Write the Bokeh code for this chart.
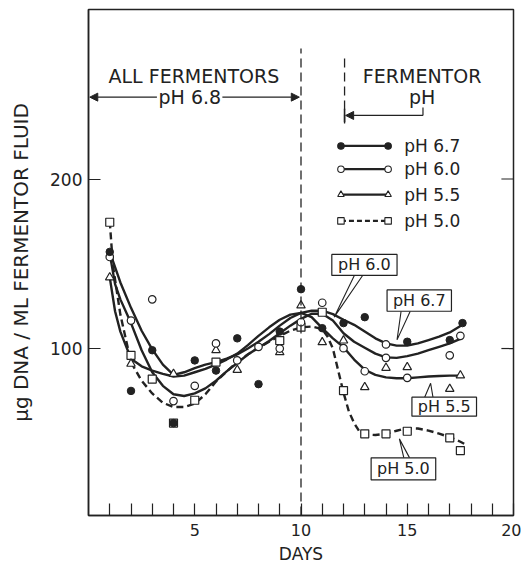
from bokeh.plotting import figure
from bokeh.models import (Range1d, FixedTicker, Label, BoxAnnotation, Arrow, NormalHead)
from bokeh.embed import file_html
from bokeh.resources import INLINE

# ---------------- data ----------------
# measured points
days_67 = [1, 2, 3, 4, 5, 6, 7, 8, 9, 10, 11, 12, 13, 15, 17, 17.6]
vals_67 = [157, 75, 99, 56, 93, 87, 106, 79, 110, 135, 112, 115, 118.5, 104, 105, 115]

days_60 = [1, 2, 3, 4, 5, 6, 7, 8, 9, 10, 11, 12, 13, 14, 14, 15, 17, 17.5]
vals_60 = [154, 116.5, 129, 69, 78, 103, 93, 101, 100, 115.5, 127, 100.2, 86.6, 102.4, 94.5, 82.7, 96, 107.5]

days_55 = [1, 2, 4, 6, 7, 9, 10, 11, 12, 13, 14, 15, 17, 17.5]
vals_55 = [142, 91, 85, 99, 87.4, 97.8, 125.4, 103.7, 104.7, 77.2, 88.6, 89, 76.2, 84.1]

days_50 = [1, 2, 3, 4, 5, 6, 9, 10, 11, 12, 13, 14, 15, 17, 17.5]
vals_50 = [174.5, 96, 82, 56, 69.5, 92, 104.7, 112.6, 121.4, 75.2, 49.7, 49.7, 51.2, 47.3, 39.8]

# hand-drawn curves
curve_days_67 = [1, 1.5, 2, 2.5, 3, 3.5, 4, 4.5, 5, 5.5, 6, 6.5, 7, 7.5, 8, 8.5, 9, 9.5, 10, 10.5,
                 11, 11.5, 12, 12.5, 13, 13.5, 14, 14.5, 15, 15.5, 16, 16.5, 17, 17.6]
curve_67 = [157, 139, 124, 110.5, 99.5, 90.5, 84.5, 86, 88.5, 90.5, 92, 94, 96.5, 100, 104, 108.5,
            113.5, 118, 121, 122.3, 122.3, 120.3, 117, 114, 110, 106, 103, 101.7, 101.8, 103, 105,
            107, 109.5, 114]

curve_days_60 = [1, 1.25, 1.5, 2, 2.5, 3, 3.5, 4, 4.5, 5, 5.5, 6, 6.5, 7, 7.5, 8, 8.5, 9, 9.5, 10,
                 10.5, 11, 11.5, 12, 12.5, 13, 13.5, 14, 14.5, 15, 15.5, 16, 16.5, 17, 17.5]
curve_60 = [156, 138, 129, 115, 99, 86, 78, 73, 72, 73.5, 76.5, 81, 86.5, 91.5, 96.5, 100.5, 104.5,
            109, 113.5, 117.5, 120.5, 120.5, 116.5, 109, 104, 100.5, 97, 94.8, 94.5, 95.5, 97, 99,
            101, 103, 105.7]

curve_days_55 = [1, 1.25, 1.5, 2, 2.5, 3, 3.5, 4, 4.5, 5, 5.5, 6, 6.5, 7, 7.5, 8, 8.5, 9, 9.5, 10,
                 10.5, 11, 11.5, 12, 12.5, 13, 13.5, 14, 14.5, 15, 15.5, 16, 16.5, 17, 17.4]
curve_55 = [142, 122, 110, 94, 89.5, 87, 85, 83.5, 84, 86, 88, 90.5, 93.5, 97, 102, 107.5, 112.5,
            117, 120, 121, 118.5, 112, 106, 100.8, 93.5, 87.5, 84.5, 83, 82.5, 82.5, 83, 83.5,
            83.8, 84, 84]

curve_days_50 = [1, 1.15, 1.5, 2, 2.5, 3, 3.5, 4, 4.5, 5, 5.5, 6, 6.5, 7, 7.5, 8, 8.5, 9, 9.5,
                 10, 10.5, 11, 11.25, 11.5, 11.75, 12, 12.25, 12.5, 12.75, 13, 13.5, 14, 14.5, 15,
                 15.5, 16, 16.5, 17, 17.5, 17.8]
curve_50 = [175, 149, 120, 92, 81, 73.5, 68, 65.5, 65.5, 67.5, 73, 80.5, 86.5, 92, 96.5, 100.5,
            104, 107.5, 110.5, 112.5, 113, 111.5, 107, 100, 87, 74, 63, 56, 51, 49.3, 49, 49.7,
            51.5, 53, 52.8, 51.6, 49.8, 47.7, 45, 43]

x_ticks = list(range(1, 21))
x_tick_labels = {5: "5", 10: "10", 15: "15", 20: "20"}
y_ticks = [100, 200]

INK = "#222222"
FONT = "DejaVu Sans"

p = figure(width=521, height=567, output_backend="svg", toolbar_location=None,
           x_range=Range1d(0, 20), y_range=Range1d(1.5, 300),
           min_border_left=88, min_border_right=8, min_border_top=9, min_border_bottom=52,
           background_fill_color="white", border_fill_color="white")
p.grid.visible = False
p.outline_line_color = INK
p.outline_line_width = 1.5

# x axis
xa = p.xaxis[0]
xa.ticker = FixedTicker(ticks=x_ticks)
xa.major_label_overrides = {t: x_tick_labels.get(t, "") for t in x_ticks}
xa.major_tick_in = 12
xa.major_tick_out = 0
xa.minor_tick_line_color = None
xa.major_tick_line_color = INK
xa.major_tick_line_width = 1.2
xa.axis_line_color = INK
xa.axis_line_width = 1.5
xa.major_label_text_font = FONT
xa.major_label_text_font_size = "16px"
xa.major_label_text_color = INK
xa.major_label_standoff = 8
xa.axis_label = "DAYS"
xa.axis_label_text_font = FONT
xa.axis_label_text_font_size = "17px"
xa.axis_label_text_font_style = "normal"
xa.axis_label_text_color = INK
xa.axis_label_standoff = 5

# y axis (left)
ya = p.yaxis[0]
ya.ticker = FixedTicker(ticks=y_ticks)
ya.major_tick_in = 12
ya.major_tick_out = 0
ya.minor_tick_line_color = None
ya.major_tick_line_color = INK
ya.major_tick_line_width = 1.2
ya.axis_line_color = INK
ya.axis_line_width = 1.5
ya.major_label_text_font = FONT
ya.major_label_text_font_size = "17px"
ya.major_label_text_color = INK
ya.major_label_standoff = 6
ya.major_label_orientation = "horizontal"
ya.axis_label = "\u03bcg DNA / ML FERMENTOR FLUID"
ya.axis_label_text_font = FONT
ya.axis_label_text_font_size = "20px"
ya.axis_label_text_font_style = "normal"
ya.axis_label_text_color = INK
ya.axis_label_standoff = 14

# right-hand inward ticks
p.segment(x0=[19.43, 19.43], y0=y_ticks, x1=[20, 20], y1=y_ticks, line_color=INK, line_width=1.2)

# ---------------- curves ----------------
LW = 2.4
p.line(curve_days_67, curve_67, line_color=INK, line_width=LW)
p.line(curve_days_60, curve_60, line_color=INK, line_width=LW)
p.line(curve_days_55, curve_55, line_color=INK, line_width=LW)
p.line(curve_days_50, curve_50, line_color=INK, line_width=LW, line_dash="7 4")

# ---------------- points ----------------
p.scatter(days_50, vals_50, marker="square", size=8, fill_color="white", line_color=INK, line_width=1.2)
p.scatter(days_55, vals_55, marker="triangle", size=8.5, fill_color="white", line_color=INK, line_width=1.2)
p.scatter(days_60, vals_60, marker="circle", size=7.5, fill_color="white", line_color=INK, line_width=1.2)
p.scatter(days_67, vals_67, marker="circle", size=7.5, fill_color=INK, line_color=INK)

# ---------------- annotations ----------------
# vertical dashed separators
p.line([10, 10], [1.5, 277], line_color=INK, line_width=1.3, line_dash="9 5")
p.line([12.05, 12.05], [232.7, 274], line_color=INK, line_width=1.3, line_dash="9 5")

# header texts
for txt, x, y in [("ALL FERMENTORS", 4.96, 260.5), ("pH 6.8", 4.77, 248.3),
                  ("FERMENTOR", 15.7, 260.5), ("pH", 15.7, 248.6)]:
    p.add_layout(Label(x=x, y=y, text=txt, text_align="center", text_baseline="middle",
                       text_font=FONT, text_font_size="19px", text_color=INK))

# pH 6.8 double arrow
p.add_layout(Arrow(x_start=3.22, y_start=248.3, x_end=0.06, y_end=248.3,
                   end=NormalHead(size=8, fill_color=INK, line_color=INK),
                   line_color=INK, line_width=1.2))
p.add_layout(Arrow(x_start=6.3, y_start=248.3, x_end=9.92, y_end=248.3,
                   end=NormalHead(size=8, fill_color=INK, line_color=INK),
                   line_color=INK, line_width=1.2))

# fermentor pH arrow
p.line([15.74, 15.74], [242.2, 237.5], line_color=INK, line_width=1.2)
p.add_layout(Arrow(x_start=15.74, y_start=237.5, x_end=12.1, y_end=237.5,
                   end=NormalHead(size=8, fill_color=INK, line_color=INK),
                   line_color=INK, line_width=1.2))
p.line([12.05, 12.05], [233.5, 241.5], line_color=INK, line_width=1.6)

# legend (drawn)
leg_rows = [("pH  6.7", 219.5, "circle", INK, None),
            ("pH  6.0", 205.8, "circle", "white", None),
            ("pH  5.5", 190.8, "triangle", "white", None),
            ("pH  5.0", 175.3, "square", "white", "5 3")]
for txt, y, mk, fc, dash in leg_rows:
    if dash:
        p.line([11.88, 14.1], [y, y], line_color=INK, line_width=2.2, line_dash=dash)
    else:
        p.line([11.88, 14.1], [y, y], line_color=INK, line_width=2.2)
    p.scatter([11.88, 14.1], [y, y], marker=mk, size=6.5, fill_color=fc, line_color=INK, line_width=1.1)
    p.add_layout(Label(x=14.86, y=y, text=txt, text_align="left", text_baseline="middle",
                       text_font=FONT, text_font_size="17px", text_color=INK))

# boxed curve labels with pointers
boxes = [("pH 6.0", 11.45, 14.52, 143.1, 155.5, [12.51, 11.56, 12.90], [143.1, 118.5, 143.1]),
         ("pH 6.7", 14.05, 17.08, 122.0, 134.6, [14.71, 14.52, 15.14], [122.0, 105.1, 122.0]),
         ("pH 5.5", 15.22, 18.26, 60.1, 71.3, [15.82, 16.10, 16.21], [71.3, 79.5, 71.3]),
         ("pH 5.0", 13.30, 16.34, 22.5, 35.5, [14.84, 14.63, 15.11], [35.5, 46.7, 35.5])]
for txt, l, r, b, t, px, py in boxes:
    p.line(px, py, line_color=INK, line_width=1.1)
    p.add_layout(BoxAnnotation(left=l, right=r, bottom=b, top=t, fill_color="white", fill_alpha=1,
                               line_color=INK, line_width=1.2, line_alpha=1))
    p.add_layout(Label(x=(l + r) / 2, y=(b + t) / 2, text=txt, text_align="center",
                       text_baseline="middle", text_font=FONT, text_font_size="16px",
                       text_color=INK))

open("out.html", "w").write(file_html(p, INLINE))
